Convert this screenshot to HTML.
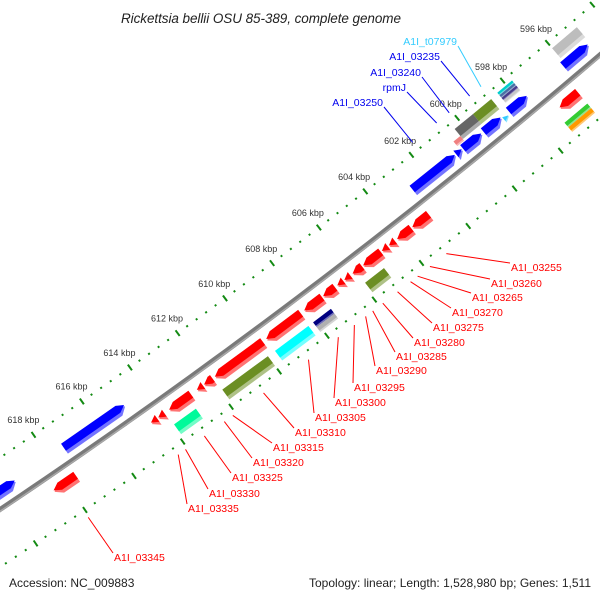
<!DOCTYPE html>
<html><head><meta charset="utf-8"><title>Rickettsia bellii genome map</title>
<style>html,body{margin:0;padding:0;background:#fff}svg{display:block}text{font-family:"Liberation Sans",sans-serif}</style>
</head><body>
<svg id="map" width="600" height="600" viewBox="0 0 600 600" xmlns="http://www.w3.org/2000/svg">
<rect width="600" height="600" fill="#fff"/>
<text x="261" y="23" font-size="13.5" font-style="italic" fill="#222" text-anchor="middle" textLength="280">Rickettsia bellii OSU 85-389, complete genome</text>
<g id="rings"></g>
<g id="features"></g>
<g id="labels"></g>
<text x="9" y="587" font-size="12" fill="#222">Accession: NC_009883</text>
<text x="591" y="587" font-size="12" fill="#222" text-anchor="end">Topology: linear; Length: 1,528,980 bp; Genes: 1,511</text>
</svg>
<script>
// ---- data (kbp) ----
const tickLabels = [596,598,600,602,604,606,608,610,612,614,616,618];
const blueStarts = [595.0,597.7,598.85,599.7,600.55,600.85,614.9,619.4];
const blueEnds   = [596.1,598.5,599.6,600.5,600.8,602.7,617.4,620.2];
const redStarts  = [596.3,602.8,603.55,604.25,604.55,604.85,605.65,606.15,606.45,606.8,607.35,608.25,609.85,611.95,612.35,612.85,613.95,614.25,617.6];
const redEnds    = [597.1,603.5,604.15,604.5,604.8,605.6,606.05,606.4,606.7,607.3,608.1,609.7,611.85,612.3,612.6,613.75,614.2,614.5,618.5];
const outerStarts = [594.9,598.7,599.5];
const outerEnds   = [596.0,599.5,600.3];
const outerColors = ["#bdbdbd","#6b8e23","#666666"];
const innerStarts = [605.1,607.35,608.3,610.0,613.0];
const innerEnds   = [605.9,608.1,609.7,611.9,613.9];
const innerColors = ["#6b8e23","#000080","#00ffff","#6b8e23","#00fa9a"];
const redLabels = ["A1I_03255","A1I_03260","A1I_03265","A1I_03270","A1I_03275","A1I_03280","A1I_03285","A1I_03290","A1I_03295","A1I_03300","A1I_03305","A1I_03310","A1I_03315","A1I_03320","A1I_03325","A1I_03330","A1I_03335","A1I_03345"];
const blueLabels = ["A1I_t07979","A1I_03235","A1I_03240","rpmJ","A1I_03250"];
const blueLabelKbp = [598.7,599.2,600.1,600.65,601.7];
// layout (pixel positions of label text)
const redLabelX = [511,491,472,452,433,414,396,376,354,335,315,295,273,253,232,209,188,114];
const redLabelY = [271,287,301,316,331,346,360,374,391,406,421,436,451,466,481,497,512,561];
const blueLabelX = [457,440,421,406,383];
const blueLabelY = [45,60,76,91,106];

const R=6443, CX=-3585, CY=-4844, NS="http://www.w3.org/2000/svg";
function ang(k){return (49.78+(k-596)*0.2632)*Math.PI/180;}
function P(k,r){const a=ang(k);return [CX+r*Math.cos(a), CY+r*Math.sin(a)];}
function pts(a){return a.map(p=>p[0].toFixed(2)+","+p[1].toFixed(2)).join(" ");}
function mk(tag,parent){const e=document.createElementNS(NS,tag);document.getElementById(parent).appendChild(e);return e;}

// rings & backbone
function ring(r,name){
  for(let i=0;i<=90;i++){
    const k=588+i*0.4; const major=Math.abs(k/2-Math.round(k/2))<1e-6;
    const l=major?3.5:1; const a=P(k,r-l), b=P(k,r+l);
    const ln=mk("line","rings");
    
    
    ln.setAttribute("x1",a[0]);ln.setAttribute("y1",a[1]);ln.setAttribute("x2",b[0]);ln.setAttribute("y2",b[1]);
    ln.setAttribute("stroke","#138a13");ln.setAttribute("stroke-width","2");
  }
}
ring(6400,'outer-ring'); ring(6491,'inner-ring');
(function(){
  const a=[];for(let k=588;k<=626;k+=0.5)a.push(P(k,R));
  const pl=mk("polyline","rings");
  
  
  pl.setAttribute("points",pts(a));pl.setAttribute("fill","none");pl.setAttribute("stroke","#7a7a7a");pl.setAttribute("stroke-width","5");
  const a2=[];for(let k=588;k<=626;k+=0.5)a2.push(P(k,R+1.5));
  const p2=mk("polyline","rings");
  
  
  p2.setAttribute("points",pts(a2));p2.setAttribute("fill","none");p2.setAttribute("stroke","#a8a8a8");p2.setAttribute("stroke-width","1.5");
})();
tickLabels.forEach(k=>{
  const p=P(k,6382); const t=mk("text","rings");
  
  
  t.setAttribute("x",p[0]);t.setAttribute("y",p[1]+3);t.setAttribute("font-size","9");t.setAttribute("fill","#333");t.setAttribute("text-anchor","middle");
  t.textContent=k+" kbp";
});

function shape(k1,k2,r1,r2,dir){
  const rm=(r1+r2)/2; const h=Math.min(0.25,(k2-k1));
  if(dir>0) return [P(k1,r1),P(k2-h,r1),P(k2,rm),P(k2-h,r2),P(k1,r2)];
  if(dir<0) return [P(k2,r1),P(k1+h,r1),P(k1,rm),P(k1+h,r2),P(k2,r2)];
  return [P(k1,r1),P(k2,r1),P(k2,r2),P(k1,r2)];
}
function lighten(c){const n=parseInt(c.slice(1),16);let r=n>>16,g=(n>>8)&255,b=n&255;
  r=Math.round(r+(255-r)*0.45);g=Math.round(g+(255-g)*0.45);b=Math.round(b+(255-b)*0.45);return "rgb("+r+","+g+","+b+")";}
function feature(k1,k2,r1,r2,dir,color,name){
  const g=mk("g","features");
  
  
  const a=document.createElementNS(NS,"polygon");a.setAttribute("points",pts(shape(k1,k2,r1,r2,dir)));a.setAttribute("fill",lighten(color));g.appendChild(a);
  const b=document.createElementNS(NS,"polygon");b.setAttribute("points",pts(shape(k1,k2,r1,r2-(r2-r1)*0.3,dir)));b.setAttribute("fill",color);g.appendChild(b);
}
blueStarts.forEach((s,i)=>feature(s,blueEnds[i],R-20,R-8,-1,"#0000ff","forward-gene"));
feature(598.6,598.8,R-15,R-8,-1,"#33ccff","trna-gene");
redStarts.forEach((s,i)=>feature(s,redEnds[i],R+10,R+22,1,"#ff0000","reverse-gene"));
outerStarts.forEach((s,i)=>feature(s,outerEnds[i],R-36,R-23,0,outerColors[i],"outer-feature"));
feature(600.3,600.6,R-27,R-21,0,"#f08080","outer-feature-pink");
["#00cccc","#4a6fa5","#483d8b","#c8c8c8"].forEach((c,i)=>feature(597.75,598.4,R-37+i*3.3,R-37+(i+1)*3.3,0,c,"stripe-feature"));
innerStarts.forEach((s,i)=>{
  if(innerColors[i]==="#000080"){feature(s,innerEnds[i],R+29,R+35,0,"#000080","inner-feature");feature(s,innerEnds[i],R+35,R+41,0,"#b0b0b0","inner-feature");}
  else feature(s,innerEnds[i],R+29,R+41,0,innerColors[i],"inner-feature");
});
feature(596.3,597.3,R+29,R+35,0,"#33cc33","inner-feature-green");
feature(596.3,597.3,R+35,R+41,0,"#ff9900","inner-feature-orange");

// labels
redLabels.forEach((txt,i)=>{
  const k=(redStarts[i+1]+redEnds[i+1])/2; const p=P(k,R+56);
  const ln=mk("line","labels");
  
  
  ln.setAttribute("x1",p[0]);ln.setAttribute("y1",p[1]);ln.setAttribute("x2",redLabelX[i]-1);ln.setAttribute("y2",redLabelY[i]-8);
  ln.setAttribute("stroke","#ff0000");ln.setAttribute("stroke-width","1");
  const t=mk("text","labels");
  
  
  t.setAttribute("x",redLabelX[i]);t.setAttribute("y",redLabelY[i]);t.setAttribute("font-size","10.5");t.setAttribute("fill","#ff0000");
  t.textContent=txt;
});
blueLabels.forEach((txt,i)=>{
  const c=i===0?"#33ccff":"#0000ee";
  const p=P(blueLabelKbp[i],R-52);
  const ln=mk("line","labels");
  
  
  ln.setAttribute("x1",blueLabelX[i]+1);ln.setAttribute("y1",blueLabelY[i]+1);ln.setAttribute("x2",p[0]);ln.setAttribute("y2",p[1]);
  ln.setAttribute("stroke",c);ln.setAttribute("stroke-width","1");
  const t=mk("text","labels");
  
  
  t.setAttribute("x",blueLabelX[i]);t.setAttribute("y",blueLabelY[i]);t.setAttribute("font-size","10.5");t.setAttribute("fill",c);t.setAttribute("text-anchor","end");
  t.textContent=txt;
});
</script>
</body></html>
